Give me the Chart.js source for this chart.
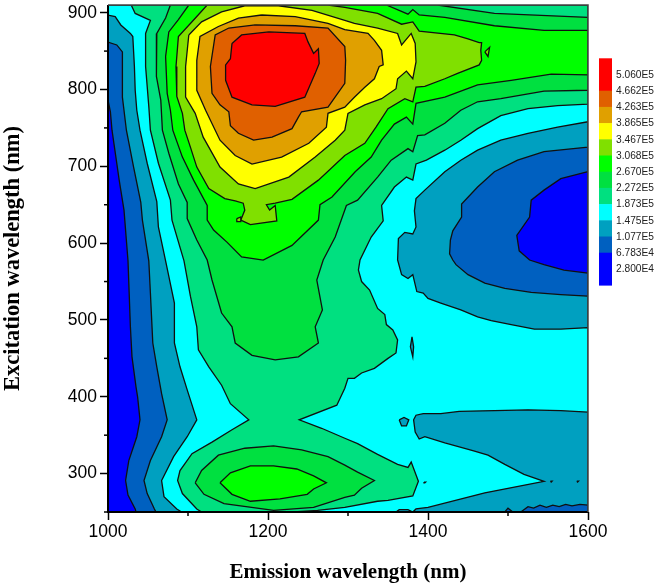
<!DOCTYPE html>
<html><head><meta charset="utf-8">
<script src="https://cdn.jsdelivr.net/npm/chart.js@4"></script>
<style>html,body{margin:0;padding:0;background:#fff}canvas{display:block}</style>
</head><body><canvas id="c" width="657" height="587"></canvas>
<script>
const xMajorLabels=[1000,1200,1400,1600];
const xMinorTicks=[1100,1300,1500];
const yMinorTicks=[250,350,450,550,650,750,850];
const levelLabels=['5.060E5','4.662E5','4.263E5','3.865E5','3.467E5','3.068E5','2.670E5','2.272E5','1.873E5','1.475E5','1.077E5','6.783E4','2.800E4'];
const colorBlue='#0000ff',colorNavy='#0060c0',colorTeal='#00a0c0',colorCyan='#00ffff',colorMint='#00e080',colorGreen='#00e040',colorLime='#00ff00',colorOlive='#80e000',colorYellow='#ffff00',colorAmber='#e0a000',colorOrange='#e06000',colorRed='#ff0000';
const barColors=[colorRed,colorOrange,colorAmber,colorYellow,colorOlive,colorLime,colorGreen,colorMint,colorCyan,colorTeal,colorNavy,colorBlue];

const regionBlue=[[1000,250],[1600,250],[1600,910],[1000,910],[1000,250]];
const regionNavy=[[1000,786],[1003,771],[1005,747],[1014,682],[1020,643],[1025,577],[1028,491],[1030,452],[1035,413],[1037,400],[1040,370],[1036,348],[1026,317],[1022,291],[1025,272],[1034,254],[1035,250],[1600,250],[1600,561],[1570,565],[1545,572],[1527,578],[1514,590],[1511,610],[1527,634],[1529,656],[1545,669],[1566,684],[1600,693],[1600,910],[1000,910],[1000,786]];
const regionTeal=[[999,862],[1011,858],[1018,849],[1018,790],[1023,747],[1032,699],[1041,653],[1043,630],[1051,577],[1053,535],[1056,470],[1061,439],[1067,404],[1074,370],[1067,348],[1053,317],[1045,291],[1049,274],[1058,254],[1060,250],[1496,250],[1500,255],[1506,250],[1516,250],[1525,257],[1532,255],[1540,259],[1548,256],[1556,259],[1564,257],[1572,260],[1580,258],[1590,260],[1600,259],[1600,531],[1566,533],[1529,536],[1496,541],[1471,548],[1450,559],[1435,572],[1431,578],[1427,586],[1428,604],[1431,616],[1442,634],[1442,651],[1462,673],[1483,693],[1512,708],[1545,719],[1600,725],[1600,910],[999,910],[999,862]];
const regionCyan=[[999,897],[1009,895],[1016,884],[1028,873],[1031,869],[1033,830],[1034,799],[1036,773],[1040,747],[1049,704],[1061,654],[1063,621],[1072,577],[1083,522],[1083,470],[1090,439],[1099,409],[1111,370],[1099,348],[1082,322],[1067,291],[1070,270],[1086,254],[1092,250],[1360,250],[1364,253],[1375,253],[1381,250],[1385,254],[1400,256],[1471,275],[1545,290],[1520,299],[1496,312],[1475,324],[1456,330],[1421,340],[1396,348],[1389,345],[1384,354],[1382,370],[1385,376],[1394,378],[1416,378],[1439,381],[1483,382],[1525,383],[1566,382],[1600,380],[1600,490],[1566,488],[1533,488],[1504,494],[1479,499],[1462,504],[1441,513],[1416,522],[1400,528],[1394,535],[1386,537],[1381,559],[1375,554],[1367,559],[1362,578],[1363,606],[1371,614],[1381,612],[1385,621],[1383,642],[1385,658],[1396,669],[1421,693],[1441,708],[1462,721],[1491,734],[1525,743],[1562,751],[1600,758],[1600,910],[999,910],[999,897]];
const islandTealA=[[1364,370],[1370,373],[1376,370],[1373,362],[1367,362],[1364,370]];
const islandTealB=[[1380,478],[1382,465],[1381,452],[1378,465],[1380,478]];
const dotTealA=[[1395,289],[1397,289],[1396,288],[1395,289]];
const dotCyanA=[[1553,290],[1555,290],[1554,289],[1553,290]];
const dotCyanB=[[1586,290],[1588,290],[1587,289],[1586,290]];
const regionMint=[[1029,910],[1034,899],[1053,890],[1047,873],[1047,830],[1051,778],[1053,747],[1063,704],[1078,656],[1080,630],[1095,577],[1103,531],[1111,491],[1113,461],[1126,439],[1142,415],[1153,391],[1176,370],[1155,357],[1130,341],[1105,326],[1090,304],[1087,291],[1093,274],[1111,254],[1117,250],[1232,250],[1262,252],[1296,256],[1337,264],[1350,265],[1381,271],[1388,290],[1379,315],[1375,308],[1362,312],[1337,325],[1312,339],[1296,346],[1267,359],[1239,370],[1286,389],[1296,411],[1300,424],[1308,424],[1317,431],[1333,437],[1350,450],[1360,457],[1362,474],[1356,487],[1348,494],[1346,507],[1337,515],[1327,539],[1317,550],[1313,565],[1315,578],[1329,608],[1344,629],[1342,649],[1358,673],[1373,686],[1381,682],[1385,703],[1398,708],[1421,721],[1441,734],[1462,749],[1491,766],[1525,775],[1562,779],[1600,781],[1600,910],[1029,910]];
const regionGreen=[[1078,910],[1072,893],[1061,873],[1060,847],[1061,817],[1066,786],[1068,747],[1076,717],[1088,677],[1099,653],[1099,632],[1111,604],[1124,578],[1130,552],[1142,509],[1155,491],[1159,470],[1180,454],[1209,448],[1238,452],[1263,470],[1259,491],[1268,513],[1261,552],[1269,578],[1284,608],[1298,649],[1312,656],[1337,686],[1354,708],[1375,723],[1381,719],[1387,740],[1396,741],[1421,756],[1441,773],[1462,784],[1491,788],[1545,798],[1600,799],[1600,894],[1483,899],[1412,910],[1078,910]];
const lobeGreen=[[1109,288],[1117,304],[1138,324],[1171,333],[1207,336],[1242,331],[1275,322],[1296,311],[1312,302],[1333,291],[1317,281],[1308,272],[1296,269],[1257,256],[1207,252],[1145,261],[1120,273],[1109,288]];
const regionLime=[[1101,910],[1088,891],[1076,875],[1072,843],[1074,795],[1078,773],[1081,747],[1093,712],[1107,682],[1124,649],[1124,630],[1132,617],[1149,601],[1167,582],[1194,578],[1230,597],[1263,630],[1265,650],[1280,660],[1309,693],[1329,712],[1342,734],[1358,755],[1373,764],[1381,755],[1385,782],[1421,790],[1462,806],[1504,812],[1554,820],[1600,819],[1600,877],[1545,877],[1483,883],[1421,894],[1389,897],[1381,904],[1375,898],[1348,910],[1101,910]];
const lobeLime=[[1140,288],[1153,301],[1178,310],[1207,310],[1236,306],[1257,297],[1273,288],[1257,280],[1249,273],[1215,267],[1178,264],[1155,273],[1140,288]];
const regionOlive=[[1124,910],[1111,895],[1088,869],[1085,830],[1086,791],[1093,769],[1096,747],[1103,725],[1111,699],[1126,671],[1146,658],[1159,655],[1169,652],[1171,643],[1166,630],[1178,624],[1211,629],[1209,649],[1202,643],[1198,650],[1209,652],[1230,657],[1263,682],[1296,714],[1321,730],[1335,751],[1350,775],[1371,788],[1381,784],[1385,803],[1396,804],[1421,814],[1437,821],[1464,832],[1467,838],[1466,851],[1467,861],[1464,861],[1450,866],[1433,871],[1389,876],[1381,888],[1367,885],[1337,899],[1296,907],[1275,910],[1124,910]];
const islandOliveA=[[1471,849],[1477,855],[1475,843],[1471,849]];
const islandOliveB=[[1161,632],[1166,634],[1166,628],[1161,628],[1161,632]];
const regionYellow=[[1101,871],[1097,830],[1097,790],[1109,769],[1119,738],[1140,699],[1163,677],[1184,671],[1226,686],[1259,712],[1284,734],[1296,747],[1300,769],[1321,780],[1342,788],[1360,801],[1362,814],[1373,824],[1381,814],[1385,836],[1384,860],[1379,873],[1367,858],[1362,873],[1337,880],[1308,886],[1296,890],[1255,903],[1213,909],[1171,909],[1142,901],[1117,888],[1101,871]];
const regionAmber=[[1192,897],[1163,893],[1138,882],[1115,869],[1111,838],[1111,799],[1122,773],[1140,734],[1159,714],[1180,703],[1217,712],[1251,730],[1273,751],[1275,769],[1296,777],[1308,790],[1321,803],[1333,814],[1339,830],[1344,832],[1342,851],[1333,864],[1325,873],[1296,878],[1275,886],[1234,895],[1192,897]];
const regionOrange=[[1184,884],[1151,880],[1134,871],[1128,830],[1130,795],[1140,780],[1151,771],[1153,753],[1163,743],[1182,734],[1205,738],[1230,749],[1238,764],[1242,771],[1275,777],[1296,808],[1297,838],[1296,856],[1275,880],[1234,883],[1184,884]];
const regionRed=[[1155,860],[1153,840],[1147,832],[1147,812],[1155,790],[1180,780],[1209,778],[1246,790],[1259,821],[1264,834],[1263,853],[1257,847],[1250,862],[1246,873],[1201,875],[1167,871],[1155,860]];

const layers=[
 [regionBlue,colorBlue],[regionNavy,colorNavy],[regionTeal,colorTeal],[regionCyan,colorCyan],
 [islandTealA,colorTeal],[islandTealB,colorTeal],[dotTealA,colorTeal],[dotCyanA,colorCyan],[dotCyanB,colorCyan],
 [regionMint,colorMint],[regionGreen,colorGreen],[lobeGreen,colorGreen],[regionLime,colorLime],[lobeLime,colorLime],
 [regionOlive,colorOlive],[islandOliveA,colorOlive],[islandOliveB,colorOlive],[regionYellow,colorYellow],
 [regionAmber,colorAmber],[regionOrange,colorOrange],[regionRed,colorRed]
];

const decorations={
 id:'decorations',
 afterDraw(chart){
  const {ctx,chartArea:a,scales:{x,y}}=chart;
  ctx.save();
  ctx.strokeStyle='#000';ctx.lineWidth=1.5;
  xMinorTicks.forEach(v=>{const p=x.getPixelForValue(v);ctx.beginPath();ctx.moveTo(p,a.bottom);ctx.lineTo(p,a.bottom+4);ctx.stroke();});
  yMinorTicks.forEach(v=>{const p=y.getPixelForValue(v);ctx.beginPath();ctx.moveTo(a.left,p);ctx.lineTo(a.left-4,p);ctx.stroke();});
  ctx.strokeStyle='#000';ctx.lineWidth=2;
  ctx.beginPath();ctx.moveTo(a.left,a.top);ctx.lineTo(a.left,a.bottom);ctx.lineTo(a.right,a.bottom);ctx.stroke();
  ctx.strokeStyle='#444';ctx.lineWidth=1.5;
  ctx.beginPath();ctx.moveTo(a.left,a.top);ctx.lineTo(a.right,a.top);ctx.lineTo(a.right,a.bottom);ctx.stroke();
  // colour bar
  const bx=599,bw=13,h=16.2;let top=58.3;
  barColors.forEach((c,i)=>{const hh=(i===0||i===barColors.length-1)?h*2:h;ctx.fillStyle=c;ctx.fillRect(bx,top,bw,hh+0.5);top+=hh;});
  ctx.fillStyle='#222';ctx.font='10.2px "Liberation Sans"';ctx.textBaseline='middle';ctx.textAlign='left';
  levelLabels.forEach((t,i)=>ctx.fillText(t,616,75+i*16.2));
  ctx.restore();
 }
};

new Chart(document.getElementById('c'),{
 type:'scatter',
 data:{datasets:layers.map(([pts,col],i)=>({data:pts,showLine:true,fill:'shape',backgroundColor:col,borderColor:'#101010',borderWidth:1.3,pointRadius:0,tension:0,order:layers.length-i}))},
 options:{
  responsive:false,animation:false,
  layout:{padding:{left:0,right:69,top:5,bottom:0}},
  plugins:{legend:{display:false},tooltip:{enabled:false}},
  scales:{
   x:{type:'linear',min:1000,max:1600,
    afterFit(s){s.height=75;s.paddingLeft=0;s.paddingRight=0;},
    border:{display:false},
    grid:{drawOnChartArea:false,tickLength:8,tickWidth:1.5,tickColor:c=>xMajorLabels.includes(c.tick.value)?'#000':'rgba(0,0,0,0)'},
    ticks:{stepSize:100,autoSkip:false,maxRotation:0,padding:2,color:'#000',font:{family:'"Liberation Sans"',size:17.5},callback:v=>xMajorLabels.includes(v)?String(v):''},
    title:{display:true,text:'Emission wavelength (nm)',color:'#000',font:{family:'"Liberation Serif"',weight:'bold',size:21},padding:{top:4,bottom:2}}
   },
   y:{type:'linear',min:250,max:910,
    afterFit(s){s.width=108;s.paddingTop=0;s.paddingBottom=0;},
    border:{display:false},
    grid:{drawOnChartArea:false,tickLength:8,tickWidth:1.5,tickColor:c=>(c.tick.value%100===0)?'#000':'rgba(0,0,0,0)'},
    ticks:{stepSize:50,includeBounds:false,autoSkip:false,padding:3,color:'#000',font:{family:'"Liberation Sans"',size:17.5},callback:v=>v%100===0?String(v):''},
    title:{display:true,text:'Excitation wavelength (nm)',color:'#000',font:{family:'"Liberation Serif"',weight:'bold',size:22.5},padding:{top:0,bottom:4}}
   }
  }
 },
 plugins:[decorations]
});
</script></body></html>
